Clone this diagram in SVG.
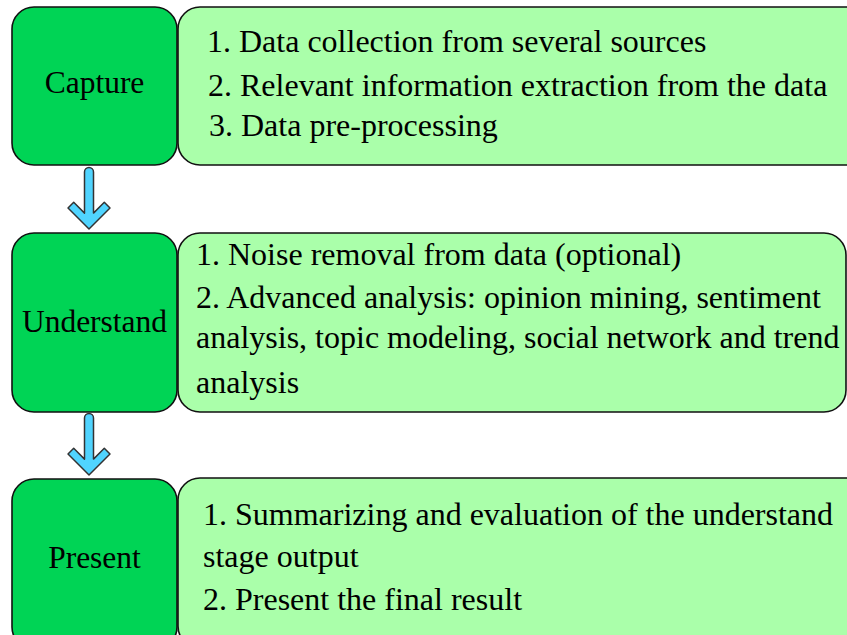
<svg xmlns="http://www.w3.org/2000/svg" width="847" height="635" viewBox="0 0 847 635">
<style>
.stage{fill:#00d455;stroke:#111;stroke-width:1.6}
.detail{fill:#aaffaa;stroke:#111;stroke-width:1.6}
text{font-family:"Liberation Serif","Times New Roman",serif;font-size:32px;fill:#000}
text.label{font-size:31.5px;text-anchor:middle}
.arrow{fill:#50d4ff;stroke:#333;stroke-width:1.5;stroke-linejoin:round}
</style>
<defs>
<path id="arr" d="M84.5,172 A4.5,4.5 0 0 1 93.5,172 L93.5,213.1 L104.3,202.3 L110,208 L89,229 L68,208 L73.7,202.3 L84.5,213.1 Z"/>
</defs>
<rect width="847" height="635" fill="#fff"/>
<g id="capture">
<rect class="stage" x="12" y="7" width="165" height="158" rx="22"/>
<text class="label" x="94.5" y="93">Capture</text>
</g>
<g id="capture-detail">
<rect class="detail" x="178" y="7" width="690" height="158" rx="22"/>
<text x="207" y="52">1. Data collection from several sources</text>
<text x="208" y="96">2. Relevant information extraction from the data</text>
<text x="209" y="136">3. Data pre-processing</text>
</g>
<g id="understand">
<rect class="stage" x="12" y="233" width="165" height="179" rx="22"/>
<text class="label" x="94.5" y="332">Understand</text>
</g>
<g id="understand-detail">
<rect class="detail" x="178" y="233" width="668" height="179" rx="22"/>
<text x="196" y="265">1. Noise removal from data (optional)</text>
<text x="196" y="308">2. Advanced analysis: opinion mining, sentiment</text>
<text x="196" y="348">analysis, topic modeling, social network and trend</text>
<text x="196" y="393">analysis</text>
</g>
<g id="present">
<rect class="stage" x="12" y="479" width="165" height="170" rx="22"/>
<text class="label" x="94.5" y="568">Present</text>
</g>
<g id="present-detail">
<rect class="detail" x="178" y="478" width="690" height="170" rx="22"/>
<text x="203" y="525">1. Summarizing and evaluation of the understand</text>
<text x="203" y="567">stage output</text>
<text x="203" y="610">2. Present the final result</text>
</g>
<g id="connectors">
<use href="#arr" class="arrow"/>
<use href="#arr" class="arrow" transform="translate(0,246)"/>
</g>
</svg>
